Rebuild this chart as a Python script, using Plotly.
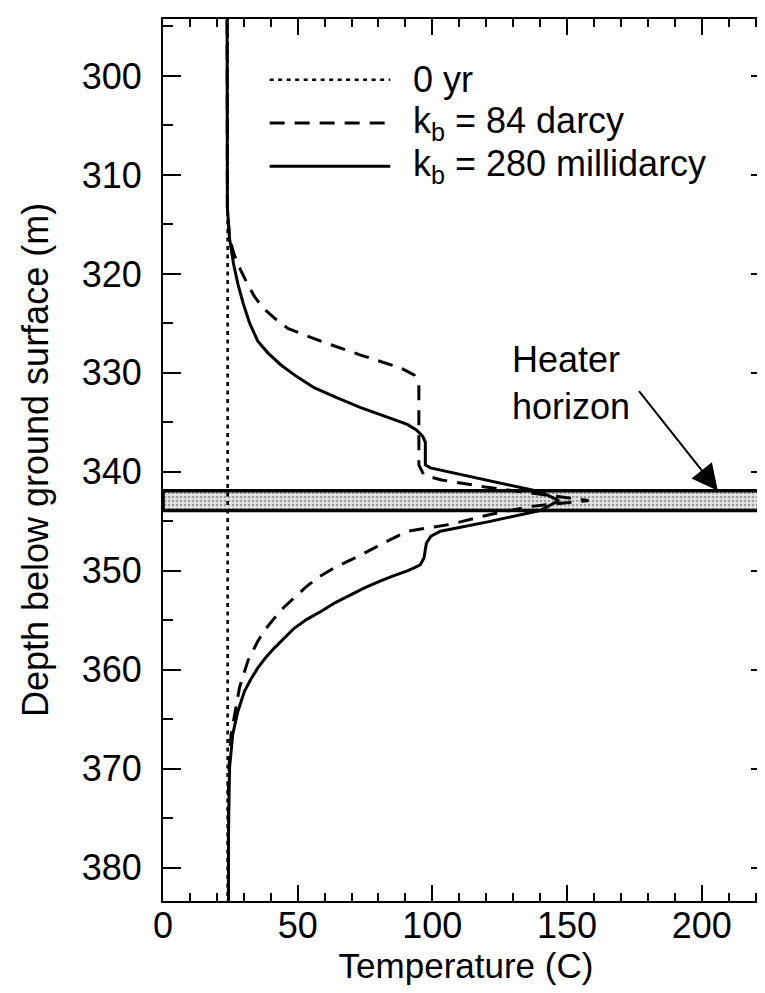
import plotly.graph_objects as go

# ---------------- data ----------------
series_names = ["0 yr", "k<sub>b</sub> = 84 darcy", "k<sub>b</sub> = 280 millidarcy"]

# initial profile (0 yr)
depth_0yr = [294.0, 384.0]
temp_0yr = [24.0, 24.0]

# k_b = 84 darcy (dashed)
depth_84d = [294.3, 313.3, 316.4, 318.1, 319.6, 321.1, 322.3, 323.4, 324.5, 325.5,
             326.8, 328.2, 329.5, 330.2, 331.2, 339.3, 340.3, 340.8, 341.5, 342.0,
             342.9, 343.5, 344.3, 345.3, 346.0, 347.0, 348.4, 349.7, 350.7, 351.7,
             352.7, 353.7, 354.8, 355.9, 357.1, 359.1, 361.8, 363.8, 366.5, 368.6,
             372.0, 383.4]
temp_84d = [23.8, 23.9, 24.7, 26.5, 28.8, 31.5, 34.0, 37.0, 41.5, 46.3,
            58.6, 73.4, 88.2, 93.2, 95.0, 95.0, 96.8, 103.0, 119.1, 132.6,
            158.0, 136.3, 121.5, 106.7, 90.7, 83.3, 73.4, 63.5, 57.4, 52.8,
            48.7, 44.8, 41.3, 38.0, 35.2, 31.5, 28.4, 27.1, 25.3, 24.7,
            24.3, 24.3]

# k_b = 280 millidarcy (solid)
depth_280md = [294.3, 313.3, 316.4, 317.4, 319.0, 321.0, 323.0, 325.0, 326.8, 328.0,
               329.2, 330.4, 331.5, 332.5, 333.5, 334.4, 335.2, 335.8, 336.4, 337.0,
               339.3, 339.6, 342.0, 342.9, 343.9, 345.0, 346.0, 346.5, 347.2, 348.7,
               349.4, 349.7, 350.0, 350.5, 351.0, 351.7, 352.4, 353.2, 354.1, 354.9,
               355.8, 356.8, 357.8, 358.8, 359.8, 361.0, 362.2, 364.2, 366.5, 369.9,
               376.6, 383.4]
temp_280md = [23.8, 23.9, 24.7, 25.3, 26.2, 27.8, 29.8, 32.2, 35.2, 39.0,
              43.8, 49.8, 56.1, 64.5, 73.4, 82.5, 90.7, 94.2, 96.4, 97.4,
              97.4, 99.3, 140.0, 147.0, 140.0, 121.5, 103.0, 99.5, 97.8, 96.9,
              95.5, 93.2, 90.7, 85.5, 80.8, 75.0, 69.7, 64.0, 58.6, 53.4,
              48.7, 44.8, 41.3, 38.0, 35.2, 32.5, 30.2, 27.8, 25.9, 24.7,
              24.3, 24.3]

# heater horizon band
heater_depth = [341.9, 343.9]
temp_range = [0, 225]
depth_range = [383.35, 294.25]

x_tick_vals = [0, 50, 100, 150, 200]
y_tick_vals = [300, 310, 320, 330, 340, 350, 360, 370, 380]

# ---------------- figure ----------------
FONT = "Liberation Sans, Arial, Helvetica, sans-serif"
W, H = 765, 993
ML, MR, MT, MB = 155, 2, 11, 100

fig = go.Figure()

# heater band (stippled)
fig.add_trace(go.Scatter(
    x=[temp_range[0], temp_range[1], temp_range[1], temp_range[0], temp_range[0]],
    y=[heater_depth[0], heater_depth[0], heater_depth[1], heater_depth[1], heater_depth[0]],
    mode="lines", fill="toself", fillcolor="#d8d8d8",
    fillpattern=dict(shape=".", fgcolor="#555555", bgcolor="#e4e4e4", size=4, solidity=0.35),
    line=dict(color="black", width=3.5), hoverinfo="skip", showlegend=False))

line_styles = [
    dict(color="black", width=2.6, dash="4px,4.5px"),
    dict(color="black", width=3, dash="15px,10px"),
    dict(color="black", width=3),
]
data = [(temp_0yr, depth_0yr), (temp_84d, depth_84d), (temp_280md, depth_280md)]
for (xs, ys), name, st in zip(data, series_names, line_styles):
    fig.add_trace(go.Scatter(x=xs, y=ys, mode="lines", name=name, line=st,
                             showlegend=False))

# manual legend (long line samples like the original)
pw, ph = W - ML - MR, H - MT - MB
def px2paper(px, py):
    return (px - ML) / pw, 1 - (py - MT) / ph

legend_rows_py = [71.7, 115.0, 158.3]
for name, st, py in zip(series_names, line_styles, legend_rows_py):
    x0, y0 = px2paper(262, py)
    x1, _ = px2paper(383, py)
    fig.add_shape(type="line", xref="paper", yref="paper", x0=x0, x1=x1, y0=y0, y1=y0,
                  line=st)
    tx, ty = px2paper(404, py)
    fig.add_annotation(xref="paper", yref="paper", x=tx, y=ty, xanchor="left",
                       yanchor="middle", text=name, showarrow=False,
                       font=dict(family=FONT, size=36, color="black"))

# heater horizon label + arrow
fig.add_annotation(x=128.8, y=331.0, xref="x", yref="y", xanchor="left", yanchor="middle",
                   text="Heater<br>horizon", align="left", showarrow=False,
                   font=dict(family=FONT, size=36, color="black"))
fig.add_annotation(x=206.0, y=heater_depth[0], xref="x", yref="y", text="",
                   showarrow=True, ax=-80, ay=-101, arrowhead=2, arrowsize=2.6,
                   arrowwidth=2, arrowcolor="black")

axis_common = dict(showline=True, linecolor="black", linewidth=2, mirror="ticks",
                   ticks="inside", tickcolor="black", tickwidth=2, showgrid=False,
                   zeroline=False, tickfont=dict(family=FONT, size=36, color="black"))

fig.update_xaxes(range=temp_range, tickvals=x_tick_vals, ticklen=16,
                 minor=dict(dtick=10, tick0=0, ticklen=8, ticks="inside",
                            tickcolor="black", tickwidth=2, showgrid=False),
                 title=dict(text="Temperature (C)", font=dict(family=FONT, size=35, color="black"),
                            standoff=2),
                 ticklabelstandoff=-8, **axis_common)
fig.update_yaxes(range=depth_range, tickvals=y_tick_vals, ticklen=18,
                 minor=dict(dtick=5, tick0=0, ticklen=10, ticks="inside",
                            tickcolor="black", tickwidth=2, showgrid=False),
                 title=dict(text="Depth below ground surface (m)",
                            font=dict(family=FONT, size=36, color="black"), standoff=22),
                 ticklabelstandoff=12, **axis_common)

fig.update_layout(width=W, height=H, margin=dict(l=ML, r=MR, t=MT, b=MB),
                  paper_bgcolor="white", plot_bgcolor="white", showlegend=False)

fig.write_html("out.html")
